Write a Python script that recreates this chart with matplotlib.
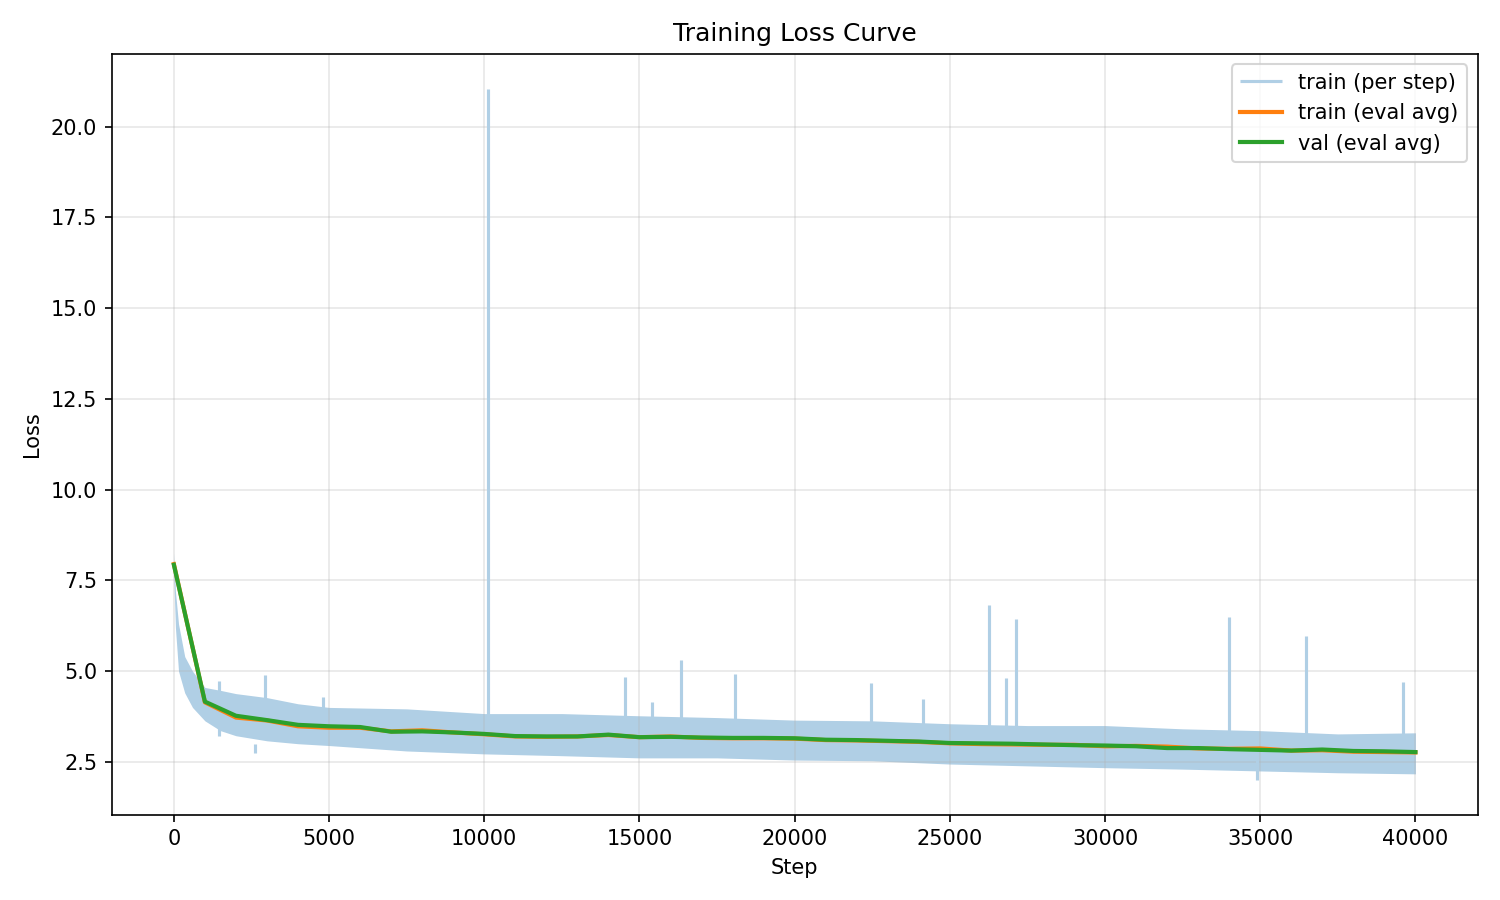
import matplotlib
matplotlib.use("Agg")
import matplotlib.pyplot as plt
import numpy as np

band_steps = [0, 50, 150, 350, 600, 1000, 1500, 2000, 3000, 4000, 5000, 7500,
              10000, 12500, 15000, 17500, 20000, 22500, 25000, 27500, 30000,
              32500, 35000, 37500, 40000]
band_upper = [8.25, 7.2, 6.3, 5.4, 5.0, 4.55, 4.47, 4.38, 4.27, 4.1, 4.0, 3.96,
              3.83, 3.83, 3.77, 3.72, 3.65, 3.63, 3.55, 3.5, 3.5,
              3.41, 3.36, 3.27, 3.3]
band_lower = [7.5, 6.2, 5.0, 4.4, 4.0, 3.63, 3.36, 3.22, 3.08, 3.0, 2.95, 2.8,
              2.72, 2.67, 2.61, 2.61, 2.55, 2.53, 2.44, 2.39, 2.34,
              2.3, 2.25, 2.2, 2.17]

spike_steps = [1450, 2940, 4800, 10130, 14540, 15400, 16330, 18070, 22450,
               24130, 26260, 26800, 27130, 34000, 36480, 39610]
spike_vals = [4.74, 4.88, 4.3, 21.05, 4.85, 4.15, 5.32, 4.93, 4.68,
              4.24, 6.81, 4.82, 6.43, 6.5, 5.96, 4.71]
dip_steps = [2600, 34900]
dip_vals = [2.75, 2.0]

# eval averages every 1000 steps
eval_steps = list(range(0, 40001, 1000))
train_eval = [7.95, 4.14, 3.72, 3.64, 3.48, 3.44, 3.44, 3.34, 3.37, 3.31, 3.26,
              3.20, 3.19, 3.20, 3.24, 3.18, 3.20, 3.16, 3.15, 3.15, 3.14,
              3.10, 3.09, 3.07, 3.05, 3.01, 2.99, 2.98, 2.97, 2.97, 2.93,
              2.94, 2.92, 2.87, 2.86, 2.87, 2.81, 2.82, 2.78, 2.77, 2.76]
val_eval = [7.93, 4.16, 3.77, 3.65, 3.52, 3.48, 3.46, 3.33, 3.34, 3.31, 3.27,
            3.21, 3.20, 3.20, 3.25, 3.18, 3.19, 3.17, 3.16, 3.16, 3.15,
            3.11, 3.10, 3.08, 3.06, 3.02, 3.01, 3.00, 2.98, 2.96, 2.95,
            2.93, 2.88, 2.88, 2.85, 2.83, 2.81, 2.84, 2.80, 2.79, 2.77]

step_color = "#b0cfe5"  # C0 at alpha 0.35 on white

fig, ax = plt.subplots(figsize=(10, 6), dpi=150)

ax.fill_between(band_steps, band_lower, band_upper, color=step_color, linewidth=0)
ax.vlines(spike_steps, 3.2, spike_vals, color=step_color, linewidth=1.5,
          label="train (per step)")
ax.vlines(dip_steps, dip_vals, 3.0, color=step_color, linewidth=1.5)
ax.plot(eval_steps, train_eval, color="tab:orange", linewidth=2, label="train (eval avg)")
ax.plot(eval_steps, val_eval, color="tab:green", linewidth=2, label="val (eval avg)")

ax.set_title("Training Loss Curve")
ax.set_xlabel("Step")
ax.set_ylabel("Loss")
ax.grid(True, alpha=0.3)
ax.legend(loc="upper right")

fig.tight_layout()
fig.savefig("out.png")
